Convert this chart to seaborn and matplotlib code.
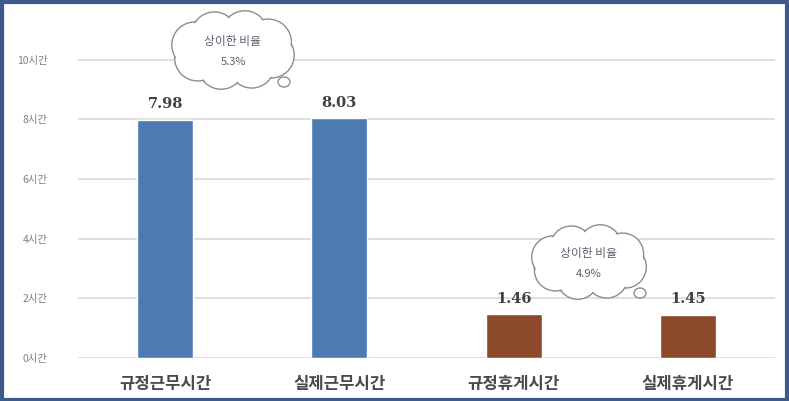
import numpy as np
import pandas as pd
import matplotlib
matplotlib.use("Agg")
import matplotlib.pyplot as plt
import seaborn as sns
from matplotlib.patches import Ellipse, Rectangle

categories = ["규정근무시간", "실제근무시간", "규정휴게시간", "실제휴게시간"]
hours = [7.98, 8.03, 1.46, 1.45]
bar_colors = ["#4C7BB2", "#4C7BB2", "#8C4A2A", "#8C4A2A"]
y_ticks = [0, 2, 4, 6, 8, 10]
y_labels = ["0시간", "2시간", "4시간", "6시간", "8시간", "10시간"]
notes = [("상이한 비율", "5.3%"), ("상이한 비율", "4.9%")]

df = pd.DataFrame({"구분": categories, "시간": hours})

sns.set_style("white")
plt.rcParams['font.family'] = ['Noto Sans CJK KR', 'DejaVu Sans']

W, H = 789, 401
fig = plt.figure(figsize=(W / 100, H / 100), dpi=100)
ax = fig.add_axes([78 / W, 1 - 358 / H, (775 - 78) / W, (358 - 15) / H])

sns.barplot(data=df, x="구분", y="시간", hue="구분", palette=bar_colors,
            width=0.32, legend=False, ax=ax, saturation=1)

ax.set_ylim(0, 11.5)
ax.set_yticks(y_ticks)
ax.set_yticklabels(y_labels, fontsize=7.5, color="#808080")
ax.yaxis.grid(True, color="#D9D9D9", linewidth=1.2)
ax.set_axisbelow(True)
ax.tick_params(axis="y", length=0, pad=22)
ax.tick_params(axis="x", length=0, pad=12)
ax.set_xticks(range(len(categories)))
ax.set_xticklabels(categories, fontsize=12, color="#4A4A4A", fontweight="bold")
ax.set_xlabel("")
ax.set_ylabel("")
for s in ax.spines.values():
    s.set_visible(False)

for i, v in enumerate(hours):
    ax.text(i, v + 0.3, f"{v:.2f}", ha="center", va="bottom",
            fontsize=10.5, fontweight="bold", color="#404040",
            family="DejaVu Serif")


def px(x, y):
    return (x / W, 1 - y / H)


def cloud(cx, cy, rx, ry, r, tail, line1, line2):
    # bumpy outline: circles drawn with edge, then white fill on top
    angles = np.linspace(0, 2 * np.pi, 8, endpoint=False) + 0.3
    centers = [(cx + rx * np.cos(a), cy + ry * np.sin(a)) for a in angles]
    tx, ty = tail
    fig.add_artist(Ellipse(px(tx, ty), 12 / W, 10 / H, facecolor="white",
                           edgecolor="#8C8C8C", linewidth=1.0, zorder=5))
    for (x, y) in centers:
        fig.add_artist(Ellipse(px(x, y), 2 * r / W, 2 * r / H, facecolor="white",
                               edgecolor="#8C8C8C", linewidth=1.0, zorder=5))
    for (x, y) in centers:
        fig.add_artist(Ellipse(px(x, y), 2 * (r - 1.2) / W, 2 * (r - 1.2) / H,
                               facecolor="white", edgecolor="none", zorder=6))
    fig.add_artist(Ellipse(px(cx, cy), 2 * (rx + 4) / W, 2 * (ry + 4) / H,
                           facecolor="white", edgecolor="none", zorder=6))
    fig.text(*px(cx, cy - 8), line1, ha="center", va="center", fontsize=8.5,
             color="#5A6270", zorder=7)
    fig.text(*px(cx, cy + 12), line2, ha="center", va="center", fontsize=8,
             color="#5A6270", zorder=7)


cloud(233, 50, 40, 17, 23, (284, 82), *notes[0])
cloud(589, 262, 38, 17, 21, (640, 293), *notes[1])

fig.add_artist(Rectangle((0.002, 0.003), 0.995, 0.993, transform=fig.transFigure,
                         fill=False, edgecolor="#3D5A8F", linewidth=3, zorder=10))

fig.savefig("out.png", dpi=100)
